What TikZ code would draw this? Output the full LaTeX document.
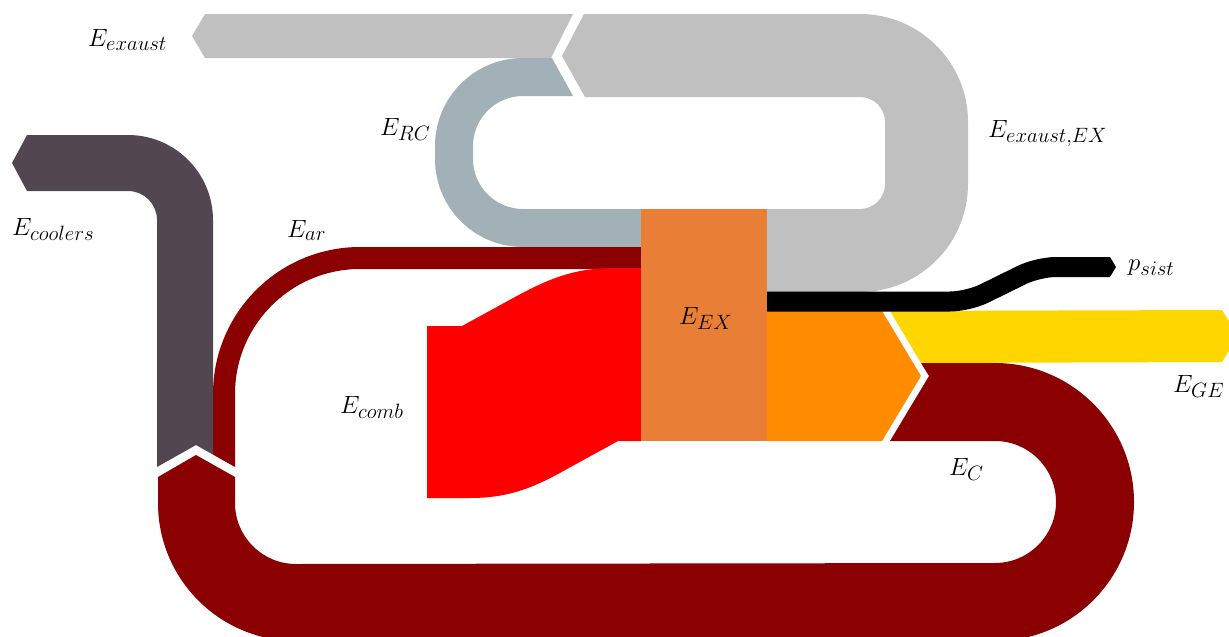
\documentclass[tikz,border=0pt]{standalone}
\definecolor{gexh}{HTML}{C0C0C0}
\definecolor{grc}{HTML}{A2B0B8}
\definecolor{gcool}{HTML}{524650}
\definecolor{dred}{HTML}{8B0000}
\definecolor{cred}{HTML}{FF0000}
\definecolor{exor}{HTML}{E97E36}
\definecolor{chev}{HTML}{FF8C00}
\definecolor{gold}{HTML}{FFD700}
\begin{document}
\begin{tikzpicture}[x=1pt,y=1pt,yscale=-1,
  lbl/.style={inner sep=0pt, anchor=base west, font=\fontsize{32}{38}\selectfont}]
\useasboundingbox (0,0) rectangle (1229,637);
% E_exaust band
\fill[gexh] (205,14) -- (573,14) -- (551,58) -- (205,58) -- (192,36) -- cycle;
% exhaust EX loop
\fill[gexh] (584,14) -- (860,14) arc[start angle=270, end angle=360, radius=108]
  -- (968,184) arc[start angle=0, end angle=90, radius=108]
  -- (767,292) -- (767,209) -- (860,209) arc[start angle=90, end angle=0, radius=25]
  -- (885,122) arc[start angle=0, end angle=-90, radius=25]
  -- (585,97) -- (562,56) -- cycle;
% RC loop
\fill[grc] (552,58) -- (573,96) -- (523,96) arc[start angle=270, end angle=180, radius=50]
  -- (473,159) arc[start angle=180, end angle=90, radius=50]
  -- (641,209) -- (641,247) -- (523,247) arc[start angle=90, end angle=180, radius=88]
  -- (435,146) arc[start angle=180, end angle=270, radius=88] -- cycle;
% E_ar
\fill[dred] (641,247) -- (360,247) arc[start angle=270, end angle=180, radius=147]
  -- (213,454.6) -- (235,467) -- (235,394) arc[start angle=180, end angle=270, radius=125]
  -- (641,269) -- cycle;
% coolers
\fill[gcool] (27,135) -- (128,135) arc[start angle=270, end angle=360, radius=85]
  -- (213,454.6) -- (196,445) -- (157,467) -- (157,220) arc[start angle=0, end angle=-90, radius=29]
  -- (27,191) -- (12,163) -- cycle;
% E_C loop
\fill[dred] (921,363) -- (995,363) arc[start angle=270, end angle=450, radius=139]
  -- (296,641) arc[start angle=90, end angle=180, radius=138]
  -- (158,477) -- (196,455) -- (235,477) -- (235,503) arc[start angle=180, end angle=90, radius=61]
  -- (995,563) arc[start angle=90, end angle=-90, radius=61]
  -- (890,441) -- (929,376) -- cycle;
% E_comb
\fill[cred] (427,326) -- (462,326) -- (515,297) .. controls (555,275) and (580,268) .. (615,268)
  -- (641,268) -- (641,441) -- (618,441) -- (567,469) .. controls (535,487) and (510,498) .. (470,498)
  -- (427,498) -- cycle;
% EX block
\fill[exor] (641,209) rectangle (767,441);
% orange chevron
\fill[chev] (767,311) -- (882,311) -- (921,376) -- (882,441) -- (767,441) -- cycle;
% yellow E_GE
\fill[gold] (890,311) -- (1222,310) -- (1229,321) -- (1229,351) -- (1222,362) -- (921,363) -- cycle;
% black p_sist
\draw[black, line width=20pt, rounded corners=18pt] (767,301.5) -- (968,301.5) -- (1038,267) -- (1108,267);
\fill[black] (1107,257) -- (1110,257) -- (1116,267) -- (1110,277) -- (1107,277) -- cycle;
% labels
\node[lbl] (lexh) at (88,46) {$E_{exaust}$};
\node[lbl] (lrc) at (380,135) {$E_{RC}$};
\node[lbl] (lexex) at (988,137) {$E_{exaust,EX}$};
\node[lbl] (lcool) at (12,235) {$E_{coolers}$};
\node[lbl] (lar) at (287,237) {$E_{ar}$};
\node[lbl] (lex) at (679,324) {$E_{EX}$};
\node[lbl] (lcomb) at (340,413) {$E_{comb}$};
\node[lbl] (lp) at (1128,270) {$p_{sist}$};
\node[lbl] (lge) at (1173,392) {$E_{GE}$};
\node[lbl] (lc) at (949,475) {$E_C$};
\end{tikzpicture}
\end{document}
